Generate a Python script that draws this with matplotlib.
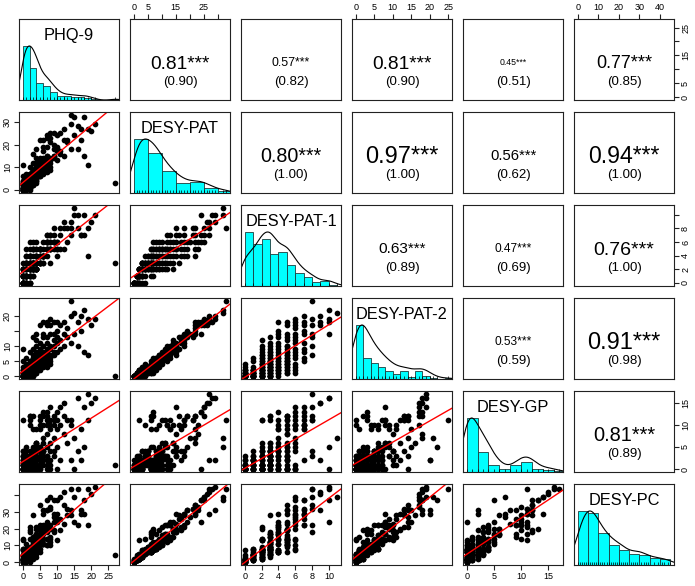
import numpy as np
import matplotlib.pyplot as plt
from matplotlib.transforms import offset_copy

plt.rcParams['font.family'] = ['Liberation Sans', 'DejaVu Sans']

labels = ['PHQ-9', 'DESY-PAT', 'DESY-PAT-1', 'DESY-PAT-2', 'DESY-GP', 'DESY-PC']

# one entry per respondent, same order in every list
phq = [0, 0, 0, 0, 0, 0, 0, 0, 0, 0, 0, 0, 0, 0, 0, 0, 0, 0, 0, 0, 0, 0, 0, 0,
       1, 1, 1, 1, 1, 1, 1, 1, 1, 1, 1, 1, 1, 1, 1, 1, 1, 1, 1, 1, 1, 1, 1, 1, 1, 1,
       2, 2, 2, 2, 2, 2, 2, 2, 2, 2, 2, 2, 2, 2, 2, 2, 2, 2, 2, 2, 2, 2, 2, 2, 2, 2,
       3, 3, 3, 3, 3, 3, 3, 3, 3, 3, 3, 3, 3, 3, 3, 3, 3, 3, 3, 3, 3, 3, 3, 3,
       4, 4, 4, 4, 4, 4, 4, 4, 4, 4, 4, 4, 4, 4, 4, 4, 4, 4, 4, 4, 4,
       5, 5, 5, 5, 5, 5, 5, 5, 5, 5, 5, 5, 5,
       6, 6, 6, 6, 6, 6, 6, 6, 6, 6, 6,
       7, 7, 7, 7, 7, 7, 7, 7, 7, 7, 7,
       8, 8, 8, 8, 8, 8, 8, 8, 8,
       9, 9, 9, 9, 9, 9,
       10, 10, 10, 10, 10,
       11, 11, 11, 12, 12, 12, 13, 13, 14, 14, 14, 15, 15, 16, 16, 17, 17, 18, 18, 19, 19, 20, 21, 27]
desy_pat = [0, 0, 0, 0, 0, 0, 0, 1, 1, 1, 1, 2, 2, 1, 1, 2, 3, 4, 2, 3, 4, 3, 6, 11,
            0, 0, 1, 1, 1, 2, 2, 3, 3, 1, 1, 2, 2, 3, 4, 5, 6, 2, 3, 4, 5, 6, 4, 6, 4, 7,
            0, 1, 2, 3, 4, 1, 2, 2, 3, 4, 5, 7, 2, 3, 4, 5, 5, 6, 7, 5, 6, 7, 6, 7, 7, 10,
            2, 3, 2, 3, 6, 3, 4, 5, 8, 5, 6, 6, 8, 6, 7, 9, 7, 8, 9, 8, 9, 9, 12, 16,
            3, 4, 4, 5, 7, 5, 7, 9, 6, 7, 8, 8, 10, 8, 10, 9, 10, 11, 12, 14, 18,
            6, 6, 7, 9, 8, 10, 9, 11, 12, 12, 13, 14, 22,
            7, 8, 9, 10, 12, 10, 11, 14, 17, 19, 22,
            8, 10, 12, 11, 13, 13, 15, 15, 19, 24, 23,
            9, 10, 13, 12, 14, 13, 21, 23, 25,
            15, 14, 15, 18, 20, 25,
            13, 17, 18, 19, 24,
            16, 17, 25, 15, 22, 27, 21, 22, 18, 29, 33, 24, 32, 18, 28, 22, 27, 15, 32, 11, 27, 26, 29, 3]
desy_pat1 = [0, 0, 0, 0, 0, 0, 0, 1, 1, 1, 1, 2, 2, 0, 0, 1, 2, 3, 0, 1, 2, 0, 1, 2,
             0, 0, 1, 1, 1, 2, 2, 3, 3, 0, 0, 1, 1, 2, 3, 4, 5, 0, 1, 2, 3, 4, 1, 3, 0, 1,
             0, 1, 2, 3, 4, 0, 1, 1, 2, 3, 4, 6, 0, 1, 2, 3, 3, 4, 5, 2, 3, 4, 2, 3, 2, 2,
             2, 3, 1, 2, 5, 1, 2, 3, 6, 2, 3, 3, 5, 2, 3, 5, 2, 3, 4, 2, 3, 2, 3, 3,
             2, 3, 2, 3, 5, 2, 4, 6, 2, 3, 4, 3, 5, 2, 4, 2, 3, 3, 2, 2, 4,
             4, 3, 3, 5, 3, 5, 3, 5, 5, 4, 4, 3, 5,
             4, 4, 4, 4, 6, 3, 3, 4, 4, 5, 4,
             5, 6, 7, 5, 6, 5, 6, 4, 6, 7, 5,
             5, 5, 7, 5, 5, 3, 7, 6, 6,
             8, 6, 5, 6, 6, 7,
             5, 6, 5, 4, 6,
             7, 5, 8, 5, 8, 9, 8, 6, 7, 9, 8, 10, 11, 8, 10, 7, 7, 7, 10, 4, 8, 9, 10, 3]
desy_pat2 = [0, 0, 0, 0, 0, 0, 0, 0, 0, 0, 0, 0, 0, 1, 1, 1, 1, 1, 2, 2, 2, 3, 5, 9,
             0, 0, 0, 0, 0, 0, 0, 0, 0, 1, 1, 1, 1, 1, 1, 1, 1, 2, 2, 2, 2, 2, 3, 3, 4, 6,
             0, 0, 0, 0, 0, 1, 1, 1, 1, 1, 1, 1, 2, 2, 2, 2, 2, 2, 2, 3, 3, 3, 4, 4, 5, 8,
             0, 0, 1, 1, 1, 2, 2, 2, 2, 3, 3, 3, 3, 4, 4, 4, 5, 5, 5, 6, 6, 7, 9, 13,
             1, 1, 2, 2, 2, 3, 3, 3, 4, 4, 4, 5, 5, 6, 6, 7, 7, 8, 10, 12, 14,
             2, 3, 4, 4, 5, 5, 6, 6, 7, 8, 9, 11, 17,
             3, 4, 5, 6, 6, 7, 8, 10, 13, 14, 18,
             3, 4, 5, 6, 7, 8, 9, 11, 13, 17, 18,
             4, 5, 6, 7, 9, 10, 14, 17, 19,
             7, 8, 10, 12, 14, 18,
             8, 11, 13, 15, 18,
             9, 12, 17, 10, 14, 18, 13, 16, 11, 20, 25, 14, 21, 10, 18, 15, 20, 8, 22, 7, 19, 17, 19, 0]
desy_gp = [0, 0, 0, 0, 1, 1, 2, 0, 0, 1, 3, 0, 11, 0, 2, 0, 1, 4, 0, 4, 3, 1, 2, 3,
           0, 1, 0, 2, 0, 1, 3, 0, 2, 0, 1, 2, 0, 4, 3, 1, 0, 0, 2, 1, 3, 0, 2, 5, 3, 1,
           0, 1, 0, 2, 10, 0, 1, 3, 0, 2, 1, 0, 0, 1, 2, 3, 3, 1, 12, 4, 12, 0, 1, 0, 0, 11,
           0, 1, 2, 0, 9, 1, 3, 4, 0, 2, 1, 0, 3, 0, 2, 0, 1, 4, 4, 0, 2, 5, 3, 12,
           0, 1, 2, 4, 5, 1, 0, 4, 0, 2, 9, 1, 3, 0, 6, 4, 2, 6, 1, 6, 3,
           0, 11, 1, 10, 4, 0, 3, 5, 2, 5, 9, 1, 12,
           13, 3, 2, 4, 10, 1, 6, 4, 4, 12, 7,
           2, 0, 10, 3, 1, 11, 5, 3, 12, 13, 8,
           1, 4, 9, 0, 6, 2, 11, 10, 14,
           3, 10, 4, 11, 7, 12,
           0, 9, 11, 5, 13,
           10, 2, 14, 8, 12, 15, 11, 6, 10, 2, 11, 0, 7, 4, 16, 9, 2, 14, 5, 11, 17, 15, 16, 1]
desy_pc = [0, 0, 0, 0, 1, 1, 2, 1, 1, 2, 4, 2, 13, 1, 3, 2, 4, 8, 2, 7, 7, 4, 8, 14,
           0, 1, 1, 3, 1, 3, 5, 3, 5, 1, 2, 4, 2, 7, 7, 6, 6, 2, 5, 5, 8, 6, 6, 11, 7, 8,
           0, 2, 2, 5, 14, 1, 3, 5, 3, 6, 6, 7, 2, 4, 6, 8, 8, 7, 19, 9, 18, 7, 7, 7, 7, 21,
           2, 4, 4, 3, 15, 4, 7, 9, 8, 7, 7, 6, 11, 6, 9, 9, 8, 12, 13, 8, 11, 14, 15, 28,
           3, 5, 6, 9, 12, 6, 7, 13, 6, 9, 17, 9, 13, 8, 16, 13, 12, 17, 13, 20, 21,
           6, 17, 8, 19, 12, 10, 12, 16, 14, 17, 22, 15, 34,
           20, 11, 11, 14, 22, 11, 17, 18, 21, 31, 29,
           10, 10, 22, 14, 14, 24, 20, 18, 31, 37, 31,
           10, 14, 22, 12, 20, 15, 32, 33, 39,
           18, 24, 19, 29, 27, 37,
           13, 26, 29, 24, 37,
           26, 19, 39, 23, 34, 42, 32, 28, 28, 31, 44, 24, 39, 22, 44, 31, 29, 29, 37, 22, 44, 41, 45, 4]

# upper-panel text (row, column)
cor_cells = [(0, 1), (0, 2), (0, 3), (0, 4), (0, 5),
             (1, 2), (1, 3), (1, 4), (1, 5),
             (2, 3), (2, 4), (2, 5),
             (3, 4), (3, 5),
             (4, 5)]
cor_r = ['0.81', '0.57', '0.81', '0.45', '0.77',
         '0.80', '0.97', '0.56', '0.94',
         '0.63', '0.47', '0.76',
         '0.53', '0.91',
         '0.81']
cor_paren = ['(0.90)', '(0.82)', '(0.90)', '(0.51)', '(0.85)',
             '(1.00)', '(1.00)', '(0.62)', '(1.00)',
             '(0.89)', '(0.69)', '(1.00)',
             '(0.59)', '(0.98)',
             '(0.89)']

hist_step = [2, 5, 1, 2, 2, 5]

top_ticks = {1: ([0, 5, 10, 15, 20, 25, 30], ['0', '5', '', '15', '', '25', '']),
             3: ([0, 5, 10, 15, 20, 25], ['0', '5', '10', '15', '20', '25']),
             5: ([0, 10, 20, 30, 40], ['0', '10', '20', '30', '40'])}
right_ticks = {0: ([0, 5, 10, 15, 20, 25], ['0', '5', '', '15', '', '25']),
               2: ([0, 2, 4, 6, 8, 10], ['0', '2', '4', '6', '8', '']),
               4: ([0, 5, 10, 15], ['0', '5', '10', '15'])}
left_ticks = {1: ([0, 10, 20, 30], ['0', '10', '20', '30']),
              3: ([0, 5, 10, 15, 20], ['0', '5', '10', '', '20']),
              5: ([0, 10, 20, 30, 40], ['0', '10', '20', '30', ''])}
bottom_ticks = {0: ([0, 5, 10, 15, 20, 25], ['0', '5', '10', '15', '20', '25']),
                2: ([0, 2, 4, 6, 8, 10], ['0', '2', '4', '6', '8', '10']),
                4: ([0, 5, 10, 15], ['0', '5', '10', '15'])}

# font size of each correlation value
r_size = {(0, 1): 13.8, (0, 2): 8.9, (0, 3): 13.8, (0, 4): 6.3, (0, 5): 13.0,
          (1, 2): 14.2, (1, 3): 17.0, (1, 4): 10.7, (1, 5): 16.6,
          (2, 3): 11.1, (2, 4): 8.6, (2, 5): 14.0,
          (3, 4): 8.6, (3, 5): 17.0,
          (4, 5): 14.4}
label_size = 11.8


def kde(v):
    q75, q25 = np.percentile(v, [75, 25])
    bw = 0.9 * min(v.std(ddof=1), (q75 - q25) / 1.34) * len(v) ** -0.2
    grid = np.linspace(v.min() - 3 * bw, v.max() + 3 * bw, 400)
    d = np.exp(-0.5 * ((grid[:, None] - v[None, :]) / bw) ** 2).sum(axis=1)
    return grid, d / d.max()


data = [np.array(v, float) for v in [phq, desy_pat, desy_pat1, desy_pat2, desy_gp, desy_pc]]
lims = []
for v in data:
    pad = 0.04 * (v.max() - v.min())
    lims.append((v.min() - pad, v.max() + pad))

fig, axes = plt.subplots(6, 6, figsize=(6.95, 5.86), dpi=100)
fig.subplots_adjust(left=19 / 695, right=674 / 695, bottom=21 / 586, top=1 - 19 / 586,
                    wspace=0.11, hspace=12 / 81)

for i in range(6):
    for j in range(6):
        ax = axes[i, j]
        ax.set_xticks([])
        ax.set_yticks([])
        for s in ax.spines.values():
            s.set_linewidth(0.8)
            s.set_color('#222222')
        ax.set_xlim(lims[j])
        ax.set_ylim(lims[i])

        if i == j:
            v = data[i]
            step = hist_step[i]
            edges = np.arange(0, v.max() + step, step)
            idx = np.clip(np.searchsorted(edges, v, side='left') - 1, 0, None)
            counts = np.bincount(idx, minlength=len(edges) - 1)[:len(edges) - 1]
            ax.set_ylim(0, 1.5)
            ax.bar(edges[:-1], counts / counts.max(), width=step, align='edge',
                   color='cyan', edgecolor='#1c3c3c', linewidth=0.6)
            gx, gy = kde(v)
            ax.plot(gx, gy, color='black', lw=0.8)
            ax.vlines(np.unique(v), 0, 0.05, color='black', lw=0.5)
            tr = offset_copy(ax.transAxes, fig=fig, y=-0.716 * label_size / 2, units='points')
            ax.text(0.5, 0.81, labels[i], transform=tr, ha='center', va='baseline',
                    fontsize=label_size)
        elif i > j:
            x, y = data[j], data[i]
            ax.scatter(x, y, s=17, color='black', linewidths=0)
            slope, icpt = np.polyfit(x, y, 1)
            ax.axline((0, icpt), slope=slope, color='red', lw=1.0)

for k, (i, j) in enumerate(cor_cells):
    ax = axes[i, j]
    fs = r_size[(i, j)]
    tr = offset_copy(ax.transAxes, fig=fig, y=-0.716 * fs / 2, units='points')
    ax.text(0.5, 0.47, cor_r[k] + '***', transform=tr, ha='center', va='baseline', fontsize=fs)
    tr2 = offset_copy(ax.transAxes, fig=fig, y=-0.26 * 9.5, units='points')
    ax.text(0.5, 0.225, cor_paren[k], transform=tr2, ha='center', va='baseline', fontsize=9.5)

tick_kw = dict(length=3.6, width=0.8, labelsize=6.5, pad=1.5, colors='#222222', labelcolor='black')

for j, (t, l) in top_ticks.items():
    ax = axes[0, j]
    ax.set_xticks(t)
    ax.set_xticklabels(l)
    ax.tick_params(axis='x', top=True, bottom=False, labeltop=True, labelbottom=False, **tick_kw)

for j, (t, l) in bottom_ticks.items():
    ax = axes[5, j]
    ax.set_xticks(t)
    ax.set_xticklabels(l)
    ax.tick_params(axis='x', **tick_kw)

for i, (t, l) in right_ticks.items():
    ax = axes[i, 5]
    ax.set_yticks(t)
    ax.set_yticklabels(l, rotation=90, va='center', ha='left')
    ax.tick_params(axis='y', right=True, left=False, labelright=True, labelleft=False, **tick_kw)

for i, (t, l) in left_ticks.items():
    ax = axes[i, 0]
    ax.set_yticks(t)
    ax.set_yticklabels(l, rotation=90, va='center', ha='right')
    ax.tick_params(axis='y', **tick_kw)

fig.savefig('out.png', dpi=100)
